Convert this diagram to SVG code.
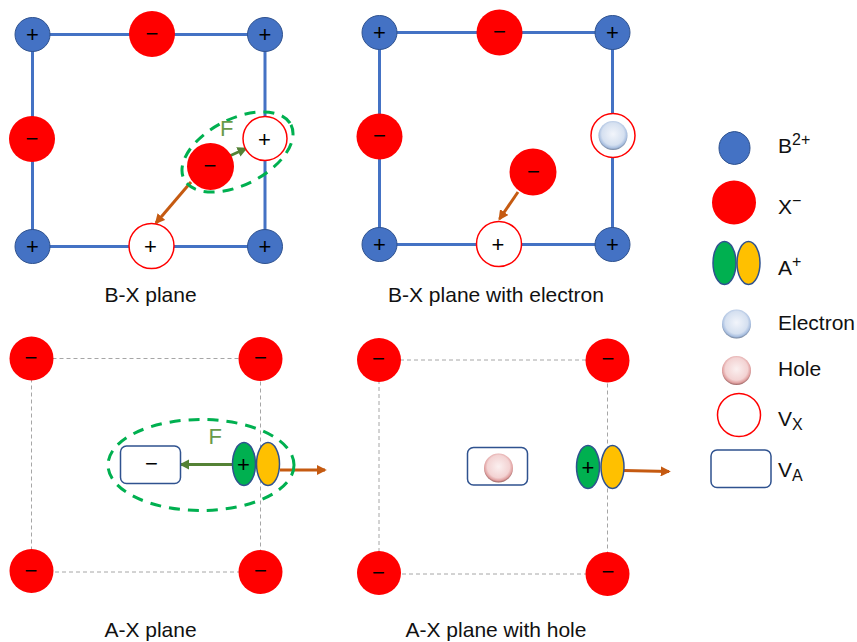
<svg xmlns="http://www.w3.org/2000/svg" width="857" height="642" viewBox="0 0 857 642">
<style>
text{font-family:"Liberation Sans",Arial,sans-serif;fill:#111;font-size:21px}
.s{font-size:16px}
.m{text-anchor:middle}
.c{font-size:22px;text-anchor:middle;fill:#000}
.n{font-size:23px;text-anchor:middle;fill:#000;font-weight:bold}
.b{fill:#4472c4;stroke:#2f528f;stroke-width:1}
.x{fill:#f00}
.v{fill:#fff;stroke:#f00;stroke-width:1.5}
.g{fill:#00b050;stroke:#2f528f;stroke-width:1.5}
.y{fill:#ffc000;stroke:#2f528f;stroke-width:1.5}
.r{fill:#fff;stroke:#2f528f;stroke-width:1.5}
.bl{stroke:#4472c4;stroke-width:3;fill:none}
.d{stroke:#a6a6a6;stroke-width:1;stroke-dasharray:4 3;fill:none}
.e{fill:none;stroke:#00b050;stroke-width:3;stroke-dasharray:11 8}
.o{stroke:#c55a11;stroke-width:3;fill:none}
.f{stroke:#548235;stroke-width:3;fill:none}
.F{fill:#6a9a4a;font-size:22px}
</style>
<defs>
<marker id="ao" markerWidth="3.400" markerHeight="3.400" refX="2.800" refY="1.700" orient="auto"><path d="M0 0L3.400 1.700L0 3.400Z" fill="#c55a11"/></marker>
<marker id="af" markerWidth="3.400" markerHeight="3.400" refX="2.800" refY="1.700" orient="auto"><path d="M0 0L3.400 1.700L0 3.400Z" fill="#548235"/></marker>
<radialGradient id="eg" cx="50%" cy="45%" r="55%"><stop offset="0" stop-color="#f2f5fb"/><stop offset=".7" stop-color="#d5e0f0"/><stop offset=".88" stop-color="#a9bfe0"/><stop offset="1" stop-color="#6f7f98"/></radialGradient>
<radialGradient id="hg" cx="50%" cy="45%" r="55%"><stop offset="0" stop-color="#fbf0f0"/><stop offset=".7" stop-color="#f3d3d3"/><stop offset=".88" stop-color="#e0a0a0"/><stop offset="1" stop-color="#96605f"/></radialGradient>
</defs>
<g id="connectors">
<path class="bl" d="M32.500 34.500H265V246.500H32.500Z"/>
<path class="bl" d="M379.500 32.500H612.500V244.500H379.500Z"/>
<path class="d" d="M31.500 358.500H260.500V572H31.500Z"/>
<path class="d" d="M379 360H607.500V574H379Z"/>
<path class="o" marker-end="url(#ao)" d="M191 182L156 223"/>
<path class="f" marker-end="url(#af)" d="M229.500 156L246 148.500"/>
<path class="o" marker-end="url(#ao)" d="M518 192L499.500 219"/>
<path class="f" marker-end="url(#af)" d="M232 464.500H181"/>
<path class="o" marker-end="url(#ao)" d="M280 470H325"/>
<path class="o" marker-end="url(#ao)" d="M624 470.500L669 471.500"/>
</g>
<g id="panel-bx">
<g id="bx-b1"><ellipse class="b" cx="32.500" cy="34.500" rx="17.500" ry="17"/><text class="c" x="32.500" y="42">+</text></g>
<g id="bx-b2"><ellipse class="b" cx="265" cy="34.500" rx="17.500" ry="17"/><text class="c" x="265" y="42">+</text></g>
<g id="bx-b3"><ellipse class="b" cx="32.500" cy="246.500" rx="17.500" ry="17"/><text class="c" x="32.500" y="254">+</text></g>
<g id="bx-b4"><ellipse class="b" cx="265" cy="246.500" rx="17.500" ry="17"/><text class="c" x="265" y="254">+</text></g>
<g id="bx-x1"><circle class="x" cx="152" cy="34" r="23"/><text class="c" x="152" y="41">−</text></g>
<g id="bx-x2"><circle class="x" cx="32" cy="139" r="23"/><text class="c" x="32" y="146">−</text></g>
<g id="bx-v1"><circle class="v" cx="265" cy="138.500" r="22"/><text class="c" x="264.500" y="147">+</text></g>
<g id="bx-x3"><circle class="x" cx="210.500" cy="166.500" r="23.500"/><text class="c" x="210" y="173">−</text></g>
<g id="bx-v2"><circle class="v" cx="151.500" cy="246" r="22.500"/><text class="c" x="150.500" y="254">+</text></g>
<ellipse id="bx-ring" class="e" cx="237.500" cy="152" rx="60" ry="33" transform="rotate(-27 237.500 152)"/>
<text class="F" x="220" y="136">F</text>
<text class="m" x="150.500" y="302">B-X plane</text>
</g>
<g id="panel-bxe">
<g id="bxe-b1"><ellipse class="b" cx="379.500" cy="32.500" rx="17.500" ry="17"/><text class="c" x="379.500" y="40">+</text></g>
<g id="bxe-b2"><ellipse class="b" cx="612.500" cy="32.500" rx="17.500" ry="17"/><text class="c" x="612.500" y="40">+</text></g>
<g id="bxe-b3"><ellipse class="b" cx="379.500" cy="244.500" rx="17.500" ry="17"/><text class="c" x="379.500" y="252">+</text></g>
<g id="bxe-b4"><ellipse class="b" cx="612.500" cy="244.500" rx="17.500" ry="17"/><text class="c" x="612.500" y="252">+</text></g>
<g id="bxe-x1"><circle class="x" cx="499.500" cy="32.500" r="23"/><text class="c" x="499.500" y="39">−</text></g>
<g id="bxe-x2"><circle class="x" cx="379.500" cy="136.500" r="23"/><text class="c" x="379.500" y="143">−</text></g>
<g id="bxe-v1"><circle class="v" cx="613" cy="135.500" r="22"/><circle cx="613" cy="135.500" r="14.500" fill="url(#eg)"/></g>
<g id="bxe-x3"><circle class="x" cx="533" cy="172" r="23.500"/><text class="c" x="533.500" y="179">−</text></g>
<g id="bxe-v2"><circle class="v" cx="499" cy="244" r="22.500"/><text class="c" x="498" y="252">+</text></g>
<text class="m" x="496" y="302">B-X plane with electron</text>
</g>
<g id="panel-ax">
<g id="ax-x1"><circle class="x" cx="31.500" cy="358.500" r="22"/><text class="c" x="31" y="365">−</text></g>
<g id="ax-x2"><circle class="x" cx="260.500" cy="359" r="22"/><text class="c" x="260.500" y="365">−</text></g>
<g id="ax-x3"><circle class="x" cx="31.500" cy="571" r="22"/><text class="c" x="31" y="578">−</text></g>
<g id="ax-x4"><circle class="x" cx="260.500" cy="572" r="22"/><text class="c" x="260.500" y="578">−</text></g>
<g id="ax-va"><rect class="r" x="120.500" y="446" width="60" height="37.500" rx="6"/><text class="c" x="151.500" y="471">−</text></g>
<g id="ax-a"><ellipse class="y" cx="268" cy="464" rx="11.500" ry="21.500"/><ellipse class="g" cx="244" cy="464" rx="11.500" ry="21.500"/><text class="c" x="243.500" y="472">+</text></g>
<ellipse id="ax-ring" class="e" cx="201" cy="465" rx="93" ry="45.500"/>
<text class="F" x="208.500" y="444">F</text>
<text class="m" x="150.500" y="637">A-X plane</text>
</g>
<g id="panel-axh">
<g id="axh-x1"><circle class="x" cx="379" cy="360" r="22"/><text class="c" x="378.500" y="366">−</text></g>
<g id="axh-x2"><circle class="x" cx="607.500" cy="360.500" r="22"/><text class="c" x="608" y="366">−</text></g>
<g id="axh-x3"><circle class="x" cx="379" cy="573" r="22"/><text class="c" x="378.500" y="580">−</text></g>
<g id="axh-x4"><circle class="x" cx="607.500" cy="574" r="22"/><text class="c" x="608" y="579">−</text></g>
<g id="axh-va"><rect class="r" x="467.500" y="447.500" width="60" height="37.500" rx="6"/><circle cx="498.500" cy="468" r="14.500" fill="url(#hg)"/></g>
<g id="axh-a"><ellipse class="y" cx="612.500" cy="467" rx="11.500" ry="21.500"/><ellipse class="g" cx="588" cy="467" rx="11.500" ry="21.500"/><text class="c" x="588" y="475">+</text></g>
<text class="m" x="496" y="637">A-X plane with hole</text>
</g>
<g id="legend">
<g id="leg-b"><ellipse class="b" cx="734.500" cy="148" rx="15.500" ry="16.500"/><text x="778" y="153">B<tspan class="s" dy="-8">2+</tspan></text></g>
<g id="leg-x"><circle class="x" cx="734" cy="202.500" r="22"/><text x="778" y="214">X<tspan class="s" dy="-8">−</tspan></text></g>
<g id="leg-a"><ellipse class="g" cx="724.500" cy="263" rx="11.500" ry="21.500"/><ellipse class="y" cx="748.500" cy="263" rx="11.500" ry="21.500"/><text x="778" y="275">A<tspan class="s" dy="-8">+</tspan></text></g>
<g id="leg-e"><circle cx="736.500" cy="324" r="14.500" fill="url(#eg)"/><text x="778" y="330">Electron</text></g>
<g id="leg-h"><circle cx="736.500" cy="370.500" r="14.500" fill="url(#hg)"/><text x="778" y="376">Hole</text></g>
<g id="leg-vx"><circle class="v" cx="739" cy="415" r="21.500"/><text x="778" y="426">V<tspan class="s" dy="4">X</tspan></text></g>
<g id="leg-va"><rect class="r" x="711" y="450" width="60" height="37.500" rx="6"/><text x="778" y="477">V<tspan class="s" dy="4">A</tspan></text></g>
</g>
</svg>
